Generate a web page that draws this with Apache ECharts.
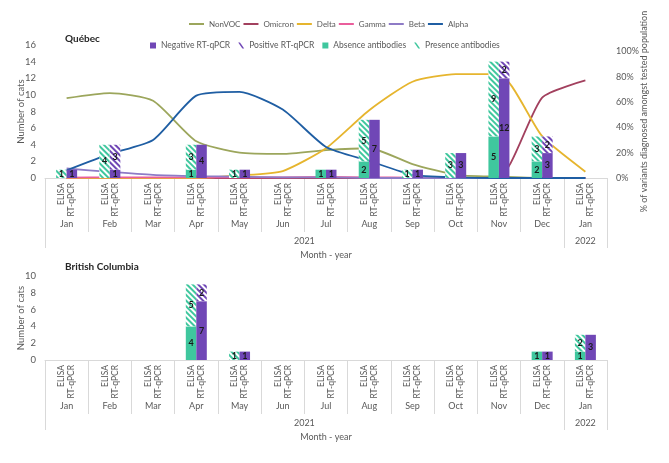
<!DOCTYPE html>
<html><head><meta charset="utf-8">
<script src="https://cdn.jsdelivr.net/npm/echarts@6/dist/echarts.min.js"></script>
<style>html,body{margin:0;padding:0;background:#fff}#c{width:669px;height:463px}</style>
</head><body><div id="c"></div>
<script>
// ---- data ----
const months = ['Jan','Feb','Mar','Apr','May','Jun','Jul','Aug','Sep','Oct','Nov','Dec','Jan'];
const subLabels = ['ELISA','RT-qPCR'];
const years = ['2021','2022'];
const monthsPerYear = [12, 1];

// Québec
const qcAbsence  = [0,0,0,1,0,0,1,2,0,0,5,2,0];
const qcPresence = [1,4,0,3,1,0,0,5,1,3,9,3,0];
const qcNegative = [1,1,0,4,1,0,1,7,1,3,12,3,0];
const qcPositive = [0,3,0,0,0,0,0,0,0,0,2,2,0];

// British Columbia
const bcAbsence  = [0,0,0,4,0,0,0,0,0,0,0,1,1];
const bcPresence = [0,0,0,5,1,0,0,0,0,0,0,0,2];
const bcNegative = [0,0,0,7,1,0,0,0,0,0,0,1,3];
const bcPositive = [0,0,0,2,0,0,0,0,0,0,0,0,0];

// variant share (fraction of tested population), Québec
const nonVOC  = [0.63,0.67,0.61,0.29,0.20,0.19,0.22,0.235,0.11,0.025,0.01,0,0];
const omicron = [0,0,0,0,0,0,0,0,0,0,0.005,0.635,0.77];
const delta   = [0,0,0,0,0.02,0.055,0.235,0.535,0.76,0.82,0.82,0.33,0.05];
const gamma   = [0.003,0.005,0.005,0.005,0.005,0.005,0.008,0.005,0.003,0,0,0,0];
const beta    = [0.075,0.048,0.025,0.015,0.01,0.005,0.005,0,0,0,0,0,0];
const alpha   = [0.06,0.19,0.30,0.65,0.68,0.54,0.245,0.135,0.025,0.005,0,0,0];

// ---- style ----
const FONT = 'Lato';
const GREY = '#595959';
const AXISC = '#D9D9D9';
const TEAL = '#3FC79E';
const PURPLE = '#7047B6';
const lineColors = {NonVOC:'#9CA65C', Omicron:'#A2405E', Delta:'#E6B52E', Gamma:'#EA5E9C', Beta:'#8E7BC6', Alpha:'#1F5EA3'};

const totalHalf = months.length * 2;
const yearCenters = {};
(function(){ let start = 0; years.forEach((y,i)=>{ yearCenters[start + monthsPerYear[i]] = y; start += monthsPerYear[i]*2; }); })();

function hatch(color){
  return {symbol:'rect', symbolSize:1, color:color, dashArrayX:[1,0], dashArrayY:[2,2], rotation:Math.PI/4};
}
const barLabel = {show:true, position:'inside', fontSize:9, fontWeight:'bold', color:'#1a1a1a', fontFamily:FONT,
  formatter: p => p.value ? String(p.value) : ''};

function xAxesFor(g){
  return [
    {type:'category', gridIndex:g, position:'bottom', data:months,
     axisLine:{show:true, lineStyle:{color:AXISC}},
     axisTick:{show:true, length:54, interval:0, lineStyle:{color:AXISC}},
     axisLabel:{interval:0, rotate:90, margin:5, fontSize:8.5, lineHeight:10, color:GREY, fontFamily:FONT,
                formatter:()=>subLabels.join('\n')}},
    {type:'category', gridIndex:g, position:'bottom', data:months,
     axisLine:{show:false}, axisTick:{show:false},
     axisLabel:{interval:0, margin:42, fontSize:9, color:GREY, fontFamily:FONT}},
    {type:'value', gridIndex:g, position:'bottom', min:0, max:totalHalf, interval:1,
     axisLine:{show:false}, axisTick:{show:false}, splitLine:{show:false},
     axisLabel:{margin:59, fontSize:9, color:GREY, fontFamily:FONT,
                formatter:v => yearCenters[Math.round(v)] && Math.abs(v-Math.round(v))<1e-6 ? yearCenters[Math.round(v)] : ''},
     name:'Month - year', nameLocation:'middle', nameGap:73, nameMoveOverlap:false,
     nameTextStyle:{fontSize:9, color:GREY, fontFamily:FONT}},
    {type:'value', gridIndex:g, position:'bottom', min:0, max:totalHalf, interval:monthsPerYear[0]*2,
     axisLine:{show:false}, splitLine:{show:false}, axisLabel:{show:false},
     axisTick:{show:true, length:70, lineStyle:{color:AXISC}}}
  ];
}

function barSeries(xi, yi, prefix, abs, pre, neg, pos){
  return [
    {name:'Absence antibodies', type:'bar', stack:prefix+'E', xAxisIndex:xi, yAxisIndex:yi, data:abs,
     barWidth:10.5, barGap:'0%', itemStyle:{color:TEAL}, label:barLabel, z:3},
    {name:'Presence antibodies', type:'bar', stack:prefix+'E', xAxisIndex:xi, yAxisIndex:yi, data:pre,
     barWidth:10.5, barGap:'0%', itemStyle:{color:'#ffffff', decal:hatch(TEAL)}, label:barLabel, z:3},
    {name:'Negative RT-qPCR', type:'bar', stack:prefix+'R', xAxisIndex:xi, yAxisIndex:yi, data:neg,
     barWidth:10.5, barGap:'0%', itemStyle:{color:PURPLE}, label:barLabel, z:3},
    {name:'Positive RT-qPCR', type:'bar', stack:prefix+'R', xAxisIndex:xi, yAxisIndex:yi, data:pos,
     barWidth:10.5, barGap:'0%', itemStyle:{color:'#ffffff', decal:hatch(PURPLE)}, label:barLabel, z:3}
  ];
}

const lineData = {NonVOC:nonVOC, Omicron:omicron, Delta:delta, Gamma:gamma, Beta:beta, Alpha:alpha};
const lineSeries = Object.keys(lineData).map(n => ({
  name:n, type:'line', xAxisIndex:0, yAxisIndex:1, data:lineData[n], symbol:'none', smooth:0.2,
  lineStyle:{color:lineColors[n], width:1.8}, itemStyle:{color:lineColors[n]}, z:1
}));

const hatchIcon = 'path://M0,0L3,0L10,10L7,10Z';
const option = {
  animation:false,
  backgroundColor:'#ffffff',
  textStyle:{fontFamily:FONT},
  title:[
    {text:'Québec', left:60, top:29, textStyle:{fontSize:10, fontWeight:'bold', color:'#262626', fontFamily:FONT}},
    {text:'British Columbia', left:60, top:257, textStyle:{fontSize:10, fontWeight:'bold', color:'#262626', fontFamily:FONT}}
  ],
  legend:[
    {data:Object.keys(lineData), left:184, top:15, icon:'rect', itemWidth:15, itemHeight:2, itemGap:3,
     textStyle:{fontSize:8, color:GREY, fontFamily:FONT}},
    {data:[
      {name:'Negative RT-qPCR', icon:'rect'},
      {name:'Positive RT-qPCR', icon:hatchIcon, itemStyle:{color:PURPLE, decal:'none'}},
      {name:'Absence antibodies', icon:'rect'},
      {name:'Presence antibodies', icon:hatchIcon, itemStyle:{color:TEAL, decal:'none'}}
     ], left:145, top:36, itemWidth:6, itemHeight:6, itemGap:8,
     textStyle:{fontSize:8.5, color:GREY, fontFamily:FONT}}
  ],
  grid:[
    {left:45, right:62, top:45, height:133},
    {left:45, right:62, top:276, height:84}
  ],
  xAxis: xAxesFor(0).concat(xAxesFor(1)),
  yAxis:[
    {type:'value', gridIndex:0, position:'left', min:0, max:16, interval:2,
     axisLine:{show:false}, axisTick:{show:false}, splitLine:{show:false},
     axisLabel:{fontSize:9.5, color:GREY, margin:9, fontFamily:FONT},
     name:'Number of cats', nameLocation:'middle', nameGap:19, nameMoveOverlap:false,
     nameTextStyle:{fontSize:9.5, color:GREY, fontFamily:FONT}},
    {type:'value', gridIndex:0, position:'right', min:0, max:1.05, interval:0.2,
     axisLine:{show:false}, axisTick:{show:false}, splitLine:{show:false},
     axisLabel:{fontSize:9, color:GREY, margin:9, fontFamily:FONT,
                formatter:v => v > 1.0001 ? '' : Math.round(v*100)+'%'},
     name:'% of variants diagnosed amongst tested population', nameLocation:'middle', nameGap:33, nameMoveOverlap:false,
     nameTextStyle:{fontSize:9, color:GREY, fontFamily:FONT}},
    {type:'value', gridIndex:1, position:'left', min:0, max:10, interval:2,
     axisLine:{show:false}, axisTick:{show:false}, splitLine:{show:false},
     axisLabel:{fontSize:9.5, color:GREY, margin:9, fontFamily:FONT},
     name:'Number of cats', nameLocation:'middle', nameGap:19, nameMoveOverlap:false,
     nameTextStyle:{fontSize:9.5, color:GREY, fontFamily:FONT}}
  ],
  series: barSeries(0,0,'qc',qcAbsence,qcPresence,qcNegative,qcPositive)
    .concat(lineSeries)
    .concat(barSeries(4,2,'bc',bcAbsence,bcPresence,bcNegative,bcPositive))
};
const chart = echarts.init(document.getElementById('c'), null, {renderer:'canvas'});
chart.setOption(option);
</script></body></html>
